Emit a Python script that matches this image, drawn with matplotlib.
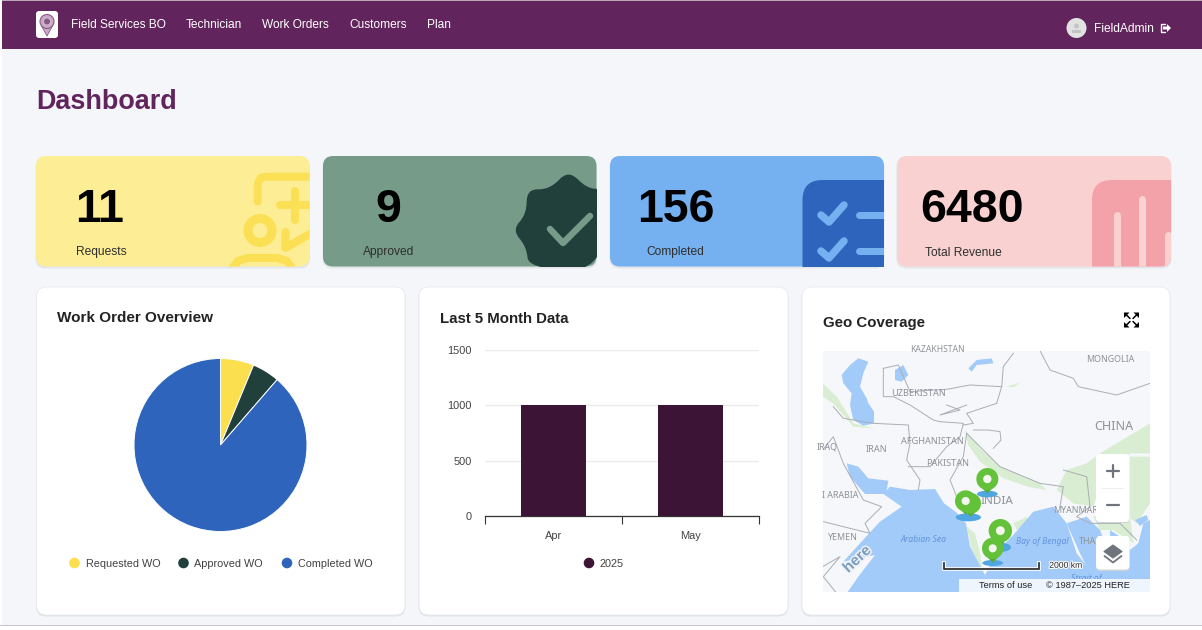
import matplotlib
matplotlib.use('Agg')
import matplotlib.pyplot as plt
from matplotlib.patches import FancyBboxPatch, Rectangle, Circle, Ellipse, Polygon, PathPatch
from matplotlib.path import Path
from matplotlib import patheffects as pe

W, H = 1202, 630
PURPLE = '#62245c'

nav_items = ['Field Services BO', 'Technician', 'Work Orders', 'Customers', 'Plan']
stat_values = ['11', '9', '156', '6480']
stat_labels = ['Requests', 'Approved', 'Completed', 'Total Revenue']

pie_labels = ['Requested WO', 'Approved WO', 'Completed WO']
pie_values = [11, 9, 156]
pie_colors = ['#fbdf4f', '#213f3b', '#2e64bb']

bar_months = ['Apr', 'May']
bar_values = [1000, 1000]
bar_series = '2025'
bar_yticks = [0, 500, 1000, 1500]
bar_color = '#3c1435'

plt.rcParams['font.family'] = ['Liberation Sans', 'DejaVu Sans']

fig = plt.figure(figsize=(W / 100, H / 100), dpi=100, facecolor='white')
bg = fig.add_axes([0, 0, 1, 1])
bg.set_xlim(0, W)
bg.set_ylim(H, 0)
bg.axis('off')


def pt(px):
    return px * 0.72


def rbox(x0, y0, x1, y1, r, color, zorder=1, **kw):
    p = FancyBboxPatch((x0, y0), x1 - x0, y1 - y0, boxstyle='round,pad=0,rounding_size=%s' % r,
                       fc=color, ec=kw.pop('ec', 'none'), lw=kw.pop('lw', 0), zorder=zorder, **kw)
    bg.add_patch(p)
    return p


def stroke(xs, ys, color, width, clip=None, zorder=3):
    line, = bg.plot(xs, ys, color=color, lw=pt(width), solid_capstyle='round',
                    solid_joinstyle='round', zorder=zorder)
    if clip is not None:
        line.set_clip_path(clip)
    return line


# page background and header
bg.add_patch(Rectangle((2, 1), W - 2, 624, fc='#f4f6f9', ec='none', zorder=0))
bg.add_patch(Rectangle((2, 1), W - 2, 47.5, fc=PURPLE, ec='none', zorder=1))
bg.add_patch(Rectangle((2, 0), W - 2, 1, fc='#b9a9b7', ec='none', zorder=1))
bg.add_patch(Rectangle((0, 625), W, 1, fc='#c2c6ca', ec='none', zorder=1))

nav_x = [71, 186, 262, 349.5, 427]
for x, name in zip(nav_x, nav_items):
    bg.text(x, 25.5, name, color='white', fontsize=pt(11.9), va='center', ha='left', zorder=3)

# logo
rbox(36, 11, 58, 38, 3, 'white', zorder=2)
bg.add_patch(Circle((47, 21.5), 7, fc='#c9a9c6', ec='#8a5a86', lw=0.8, zorder=3))
bg.add_patch(Circle((47, 21.5), 3.5, fc='#8a5a86', ec='#d8c2d6', lw=0.6, zorder=4))
bg.add_patch(Polygon([(41.5, 26), (52.5, 26), (47, 36)], fc='#c9a9c6', ec='#8a5a86', lw=0.6, zorder=2.9))

# user
bg.add_patch(Circle((1076.5, 28), 10, fc='#e2e2e2', ec='none', zorder=3))
bg.add_patch(Circle((1076.5, 26), 2.5, fc='#c4c4c4', ec='none', zorder=4))
bg.add_patch(Rectangle((1072, 29.5), 9, 3, fc='#c4c4c4', ec='none', zorder=4))
bg.text(1094, 29, 'FieldAdmin', color='white', fontsize=pt(12), va='center', zorder=3)
stroke([1165, 1161, 1161, 1165], [24, 24, 32, 32], 'white', 1.4)
bg.add_patch(Polygon([(1163, 26.5), (1167, 26.5), (1167, 24), (1171, 28), (1167, 32), (1167, 29.5), (1163, 29.5)],
                     fc='white', ec='none', zorder=3))

bg.text(36, 102, 'Dashboard', color=PURPLE, fontsize=pt(27), fontweight='bold', va='center', zorder=3)

# stat cards
card_x = [(36, 309.5), (323, 596.5), (610, 884), (897, 1171)]
card_colors = ['#fdee96', '#769b88', '#75b0f0', '#f9d1d0']
num_x = [100, 388, 676, 972]
label_x = [76, 363, 646.5, 925]
clips = []
for i, (x0, x1) in enumerate(card_x):
    rbox(x0 - 0.5, 157.5, x1 + 0.5, 268.5, 10, '#e3e6ea', zorder=1)
    clips.append(rbox(x0, 156, x1, 266.5, 10, card_colors[i], zorder=2))
    bg.text(num_x[i], 210, stat_values[i], color='black', fontsize=pt(46.5), fontweight='bold',
            ha='center', va='center', zorder=6)
    bg.text(label_x[i], 252.5, stat_labels[i], color='#2f2f2f', fontsize=pt(12), va='center', zorder=6)

# green and blue icons run out square at the lower right corner
square_clips = [Rectangle((x0, 156), x1 - x0, 110.5, transform=bg.transData) for x0, x1 in card_x]

# yellow card icon
yl = '#fbdf54'
c = clips[0]
stroke([257.7, 257.7, 258.5, 260.5, 264, 268, 320], [201.5, 186, 181.5, 178, 177, 176.7, 176.7], yl, 8, c)
stroke([280, 320], [205, 205], yl, 8, c)
stroke([294.5, 294.5], [191, 220], yl, 8, c)
ring = Circle((260, 230.5), 12, fc='none', ec=yl, lw=pt(9), zorder=3)
bg.add_patch(ring)
ring.set_clip_path(c)
stroke([285.5, 285.5, 320], [232, 248, 228], yl, 8, c)
stroke([231, 238, 247, 277, 287, 293], [270, 261, 258, 258, 261, 270], yl, 8, c)

# green card icon, a scalloped badge
dk = '#213f3b'
ctrl = [(85, 310), (80, 245), (36, 195), (80, 148), (80, 72), (150, 74), (205, 14), (262, 72), (310, 70), (310, 320)]
ctrl = [(500 + a / 3, 165 + b / 3) for a, b in ctrl]
mids = [((ctrl[i][0] + ctrl[(i + 1) % len(ctrl)][0]) / 2, (ctrl[i][1] + ctrl[(i + 1) % len(ctrl)][1]) / 2)
        for i in range(len(ctrl))]
verts = [mids[-1]]
codes = [Path.MOVETO]
for i in range(len(ctrl)):
    verts += [ctrl[i], mids[i]]
    codes += [Path.CURVE3, Path.CURVE3]
badge = PathPatch(Path(verts, codes), fc=dk, ec='none', zorder=3)
bg.add_patch(badge)
badge.set_clip_path(square_clips[1])
stroke([550, 563, 590], [229, 243, 216], '#769b88', 6.5, square_clips[1], zorder=4)

# blue card icon
p = rbox(802.5, 180, 930, 300, 20, '#2e64bb', zorder=3)
p.set_clip_path(square_clips[2])
for y in [0, 36]:
    stroke([821, 829, 844], [215 + y, 222 + y, 205 + y], '#75b0f0', 7.5, square_clips[2], zorder=4)
    stroke([859, 900], [215 + y, 215 + y], '#75b0f0', 7, square_clips[2], zorder=4)

# pink card icon
p = rbox(1092, 180, 1230, 300, 20, '#f3a2aa', zorder=3)
p.set_clip_path(clips[3])
for x, top in [(1117, 215), (1142, 199), (1167.5, 235)]:
    stroke([x, x], [top, 300], '#f9d1d0', 7, clips[3], zorder=4)

# panels
for x0, x1 in [(36.5, 405), (419, 788), (802, 1170)]:
    rbox(x0 - 0.5, 288, x1 + 0.5, 616.5, 10, '#dfe3e8', zorder=1)
    rbox(x0, 287, x1, 615, 10, 'white', zorder=2, ec='#e8eaee', lw=0.6)

bg.text(57, 318, 'Work Order Overview', color='#222222', fontsize=pt(15.3), fontweight='bold', va='center', zorder=3)
bg.text(440, 319, 'Last 5 Month Data', color='#222222', fontsize=pt(15), fontweight='bold', va='center', zorder=3)
bg.text(823, 322.5, 'Geo Coverage', color='#222222', fontsize=pt(15), fontweight='bold', va='center', zorder=3)


def axes_px(x0, y0, x1, y1):
    return fig.add_axes([x0 / W, (H - y1) / H, (x1 - x0) / W, (y1 - y0) / H])


# pie
ax_pie = axes_px(134, 358.5, 307, 531.5)
ax_pie.pie(pie_values, colors=pie_colors, startangle=90, counterclock=False, radius=1,
           wedgeprops={'edgecolor': 'white', 'linewidth': 0.7})
ax_pie.set_xlim(-1, 1)
ax_pie.set_ylim(-1, 1)
ax_pie.patch.set_alpha(0)

for x, tx, name, col in zip([74.5, 183.5, 287], [86, 194.5, 297.5], pie_labels, pie_colors):
    bg.add_patch(Circle((x, 563), 5.3, fc=col, ec='none', zorder=3))
    bg.text(tx, 564, name, color='#404040', fontsize=pt(10.9), va='center', zorder=3)

# bars
ax_bar = axes_px(485, 350, 759, 516)
ax_bar.patch.set_alpha(0)
xpos = [i + 0.5 for i in range(len(bar_months))]
ax_bar.bar(xpos, bar_values, width=0.474, color=bar_color, zorder=3)
ax_bar.set_xlim(0, len(bar_months))
ax_bar.set_ylim(0, 1500)
ax_bar.set_yticks(bar_yticks)
ax_bar.set_yticklabels([str(v) for v in bar_yticks], color='#444444', fontsize=pt(11))
ax_bar.tick_params(axis='y', length=0, pad=pt(13))
ax_bar.grid(axis='y', color='#ebebeb', lw=1, zorder=0)
ax_bar.set_xticks(range(len(bar_months) + 1))
ax_bar.set_xticklabels([])
ax_bar.set_xticks(xpos, minor=True)
ax_bar.set_xticklabels(bar_months, minor=True, color='#444444', fontsize=pt(11))
ax_bar.tick_params(axis='x', which='major', length=pt(8), width=0.8, color='#333333')
ax_bar.tick_params(axis='x', which='minor', length=0, pad=pt(15))
for s in ['top', 'left', 'right']:
    ax_bar.spines[s].set_visible(False)
ax_bar.spines['bottom'].set_color('#333333')
ax_bar.spines['bottom'].set_linewidth(0.9)

bg.add_patch(Circle((589, 563), 5.3, fc=bar_color, ec='none', zorder=3))
bg.text(600, 564, bar_series, color='#404040', fontsize=pt(10.9), va='center', zorder=3)

# expand icon
for sx, sy in [(-1, -1), (1, -1), (-1, 1), (1, 1)]:
    cx, cy = 1131.5 + sx * 7.5, 320 + sy * 7.5
    bg.add_patch(Polygon([(cx, cy), (cx - sx * 5.5, cy), (cx, cy - sy * 5.5)], fc='black', ec='none', zorder=3))
    stroke([cx - sx * 2, cx - sx * 6], [cy - sy * 2, cy - sy * 6], 'black', 1.5)


# map, coordinates are taken from a 3x crop of the panel
def mx(pts):
    return [(800 + a / 3, 290 + b / 3) for a, b in pts]


SEA = '#a2cbf9'
GREEN = '#d9edd2'
GREY = '#a9adb5'
map_rect = Rectangle((822.7, 350.7), 327.3, 241.3, fc='#f6f7fa', ec='none', zorder=3)
bg.add_patch(map_rect)

sea_polys = [
    [(140, 910), (175, 860), (225, 795), (130, 815), (200, 738), (240, 695), (305, 650), (250, 612), (270, 590),
     (330, 600), (405, 597), (432, 640), (470, 668), (498, 700), (510, 770), (555, 855), (590, 785), (640, 735),
     (700, 665), (760, 650), (800, 700), (830, 790), (870, 840), (900, 910)],
    [(800, 700), (840, 790), (880, 870), (920, 910), (1050, 910), (1050, 690), (1030, 700), (1015, 760), (990, 780),
     (960, 740), (930, 720), (930, 800), (900, 720), (860, 680)],
    [(140, 520), (175, 530), (205, 565), (265, 572), (258, 612), (195, 612), (150, 560)],
    [(125, 255), (150, 225), (175, 205), (205, 215), (190, 250), (180, 290), (200, 325), (205, 340), (222, 365),
     (222, 400), (190, 407), (160, 390), (150, 345), (155, 310), (130, 280)],
    [(285, 240), (310, 225), (325, 255), (305, 275), (285, 270)],
    [(505, 235), (530, 210), (575, 205), (580, 220), (530, 225), (515, 245)],
    [(1005, 690), (1040, 675), (1045, 690), (1020, 708)],
]
green_polys = [
    [(495, 420), (540, 475), (600, 530), (680, 565), (720, 580), (740, 600), (690, 592), (610, 565), (540, 515), (505, 465)],
    [(770, 600), (800, 540), (860, 520), (900, 490), (1050, 400), (1050, 490), (990, 490), (900, 580), (880, 650), (820, 640)],
    [(880, 680), (960, 660), (1010, 700), (1050, 640), (1050, 500), (990, 500), (990, 680), (1000, 760), (940, 720), (900, 720)],
    [(500, 710), (515, 780), (550, 850), (540, 790), (525, 730)],
    [(68, 280), (110, 320), (160, 400), (220, 415), (160, 410), (100, 340), (68, 320)],
    [(620, 290), (660, 278), (640, 292)],
    [(640, 700), (680, 680), (690, 700), (650, 720)],
]
border_lines = [
    [(250, 235), (250, 320), (280, 320), (330, 345), (400, 390), (420, 395)],
    [(250, 235), (295, 225), (330, 305), (400, 300), (440, 298), (510, 285), (605, 290), (610, 230), (640, 190)],
    [(605, 290), (590, 340), (500, 370), (520, 400), (490, 405)],
    [(100, 350), (130, 385), (220, 400), (325, 405), (330, 460), (320, 510), (360, 570), (355, 600)],
    [(325, 530), (390, 530), (440, 470), (480, 440), (490, 400), (420, 395)],
    [(720, 182), (750, 240), (820, 265), (835, 290), (950, 315), (1050, 280)],
    [(500, 430), (490, 500), (450, 570), (470, 620)],
    [(500, 430), (600, 530), (720, 580), (790, 590), (780, 650)],
    [(790, 540), (860, 560), (870, 650), (830, 680), (870, 700), (960, 700), (1010, 750)],
    [(68, 480), (100, 440), (130, 520), (190, 630), (245, 650), (195, 700), (210, 730), (70, 695)],
    [(440, 345), (480, 360), (420, 375), (500, 345)],
    [(68, 830), (120, 800), (70, 860), (110, 910)],
    [(520, 420), (565, 420), (600, 425), (603, 450), (580, 475)],
]
for poly in green_polys:
    g = Polygon(mx(poly), fc=GREEN, ec='none', zorder=3.1)
    bg.add_patch(g)
    g.set_clip_path(map_rect)
for poly in sea_polys:
    s = Polygon(mx(poly), fc=SEA, ec='none', zorder=3.2)
    bg.add_patch(s)
    s.set_clip_path(map_rect)
for line in border_lines:
    xy = mx(line)
    l, = bg.plot([a for a, b in xy], [b for a, b in xy], color=GREY, lw=0.7, zorder=3.3)
    l.set_clip_path(map_rect)

map_names = [('KAZAKHSTAN', 413, 180, 6.2), ('MONGOLIA', 930, 210, 6.4), ('UZBEKISTAN', 355, 312, 6.6),
             ('CHINA', 942, 408, 9), ('IRAN', 228, 478, 6.6), ('AFGHANISTAN', 397, 456, 6.6),
             ('PAKISTAN', 443, 522, 6.6), ('INDIA', 592, 634, 8.4), ('IRAQ', 82, 470, 6.4),
             ('I ARABIA', 122, 617, 6.4), ('YEMEN', 130, 743, 6.4), ('MYANMAR', 828, 662, 6.4), ('THAI', 868, 755, 6.4)]
for name, a, b, size in map_names:
    t = bg.text(800 + a / 3, 290 + b / 3, name, color='#8d9299', fontsize=size, family=['Noto Sans'],
                ha='center', va='center', zorder=3.5)
    t.set_clip_path(map_rect)
for name, a, b in [('Arabian Sea', 370, 748), ('Bay of Bengal', 728, 755), ('Strait of', 860, 866)]:
    t = bg.text(800 + a / 3, 290 + b / 3, name, color='#6494dc', fontsize=6.2, family=['Noto Sans'], style='italic',
                ha='center', va='center', zorder=3.5)
    t.set_clip_path(map_rect)
bg.text(800 + 172 / 3, 290 + 808 / 3, 'here', color='#7d9dbd', fontsize=11, fontweight='bold', rotation=43,
        ha='center', va='center', zorder=3.6, path_effects=[pe.withStroke(linewidth=2.2, foreground='#eef2f7')])


# pins: head centre, radius, tip, shadow centre
def pin(hx, hy, r, tipy, sx, sy, sw, sh, dot=True):
    bg.add_patch(Ellipse((800 + sx / 3, 290 + sy / 3), sw / 3, sh / 3, fc='#4fa6e0', ec='none', zorder=4))
    bg.add_patch(Polygon(mx([(hx - r * 0.88, hy + r * 0.45), (hx + r * 0.88, hy + r * 0.45), (hx, tipy)]),
                         fc='#55ad33', ec='none', zorder=4.1))
    bg.add_patch(Circle((800 + hx / 3, 290 + hy / 3), r / 3, fc='#64c23a', ec='none', zorder=4.2))
    if dot:
        bg.add_patch(Circle((800 + hx / 3, 290 + hy / 3), r * 0.38 / 3, fc='#f3f7ee', ec='none', zorder=4.3))


pin(578, 775, 32, 818, 578, 819, 62, 18)
pin(562, 567, 33, 610, 562, 612, 62, 20)
pin(512, 640, 31, 680, 505, 682, 76, 24, dot=False)
pin(497, 633, 32, 674, 505, 682, 1, 1)
pin(601, 722, 35, 768, 600, 772, 66, 28)

# scale bar and attribution
xy = mx([(431, 818), (431, 838), (718, 838), (718, 818)])
bg.plot([a for a, b in xy], [b for a, b in xy], color='white', lw=2.6, zorder=4.5, solid_joinstyle='miter')
bg.plot([a for a, b in xy], [b for a, b in xy], color='#222222', lw=1.2, zorder=4.6, solid_joinstyle='miter')
bg.text(800 + 798 / 3, 290 + 826 / 3, '2000 km', color='#222222', fontsize=pt(8.6), ha='center', va='center', zorder=4.6,
        path_effects=[pe.withStroke(linewidth=1.5, foreground='white')])
bg.add_patch(Rectangle((958.5, 579), 191.5, 13, fc='#eef5fd', ec='none', zorder=4.7))
bg.text(1005.5, 586, 'Terms of use', color='#222222', fontsize=pt(9.3), ha='center', va='center', zorder=4.8)
bg.text(1088, 586, '© 1987–2025 HERE', color='#222222', fontsize=pt(9.3), ha='center', va='center', zorder=4.8)

# map controls
rbox(1096, 455.5, 1129.5, 523, 4, '#cfd3d8', zorder=4.8)
rbox(1096, 454, 1129.5, 522, 4, 'white', zorder=4.9)
bg.plot([1102, 1123], [487.5, 487.5], color='#eeeeee', lw=0.8, zorder=5)
stroke([1107, 1119], [471, 471], '#6f747c', 2.2, zorder=5)
stroke([1113, 1113], [465, 477], '#6f747c', 2.2, zorder=5)
stroke([1107, 1119], [505, 505], '#6f747c', 2.2, zorder=5)
rbox(1096, 537.5, 1129.5, 571, 4, '#cfd3d8', zorder=4.8)
rbox(1096, 536, 1129.5, 569.5, 4, 'white', zorder=4.9)
bg.add_patch(Polygon([(1113, 545), (1122, 551.5), (1113, 558), (1104, 551.5)], fc='#6f747c', ec='#6f747c', lw=0.8,
                     joinstyle='round', zorder=5))
stroke([1104.5, 1113, 1121.5], [556, 562.5, 556], '#6f747c', 1.8, zorder=5)

fig.savefig('out.png', dpi=100, facecolor='white')
